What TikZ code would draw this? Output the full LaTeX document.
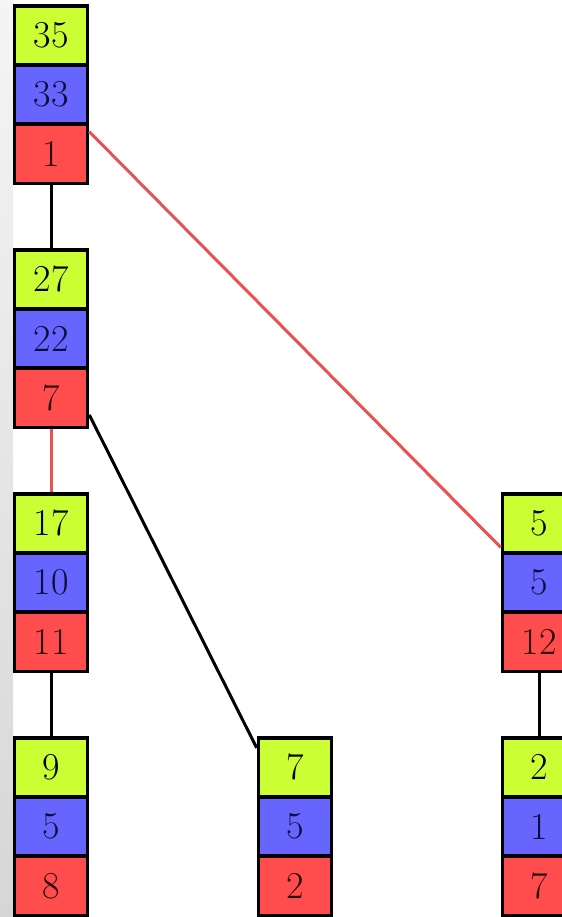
\documentclass[tikz,border=0pt]{standalone}
\definecolor{cg}{RGB}{204,255,51}
\definecolor{cb}{RGB}{102,102,255}
\definecolor{cr}{RGB}{255,77,77}
\definecolor{lr}{RGB}{232,82,82}
\definecolor{tb}{RGB}{14,14,60}
\definecolor{tr}{RGB}{45,8,8}
\tikzset{
  cell/.style={draw=black, line width=1.8pt, minimum width=36.5pt, minimum height=29.6pt, inner sep=0pt, font=\fontsize{19}{21}\selectfont},
  gcell/.style={cell, fill=cg, text=black},
  bcell/.style={cell, fill=cb, text=tb},
  rcell/.style={cell, fill=cr, text=tr},
  blk/.style={draw=black, line width=1.5pt},
  red/.style={draw=lr, line width=1.5pt}
}
\newcommand\mkstack[6]{%
  \node[gcell] (#1g) at (#2,#3+31.4) {#4};
  \node[bcell] (#1b) at (#2,#3+90.6) {#5};
  \node[rcell] (#1r) at (#2,#3+149.8) {#6};
}
\begin{document}
\begin{tikzpicture}[x=0.5pt,y=-0.5pt]
\clip (0,0) rectangle (562,917);
\fill[white] (0,0) rectangle (562,917);
\shade[top color=white!96!black, bottom color=white!84!black] (0,0) rectangle (13,917);
\mkstack{a}{51}{4}{35}{33}{1}
\mkstack{b}{51}{248}{27}{22}{7}
\mkstack{c}{51}{492}{17}{10}{11}
\mkstack{d}{51}{736}{9}{5}{8}
\mkstack{e}{295}{736}{7}{5}{2}
\mkstack{f}{539}{492}{5}{5}{12}
\mkstack{h}{539}{736}{2}{1}{7}
\draw[blk] (ar.south) -- (bg.north);
\draw[red] (br.south) -- (cg.north);
\draw[blk] (cr.south) -- (dg.north);
\draw[blk] (fr.south) -- (hg.north);
\draw[red] (ar.30) -- (fg.212);
\draw[blk] (br.-24) -- (eg.153);
\end{tikzpicture}
\end{document}
